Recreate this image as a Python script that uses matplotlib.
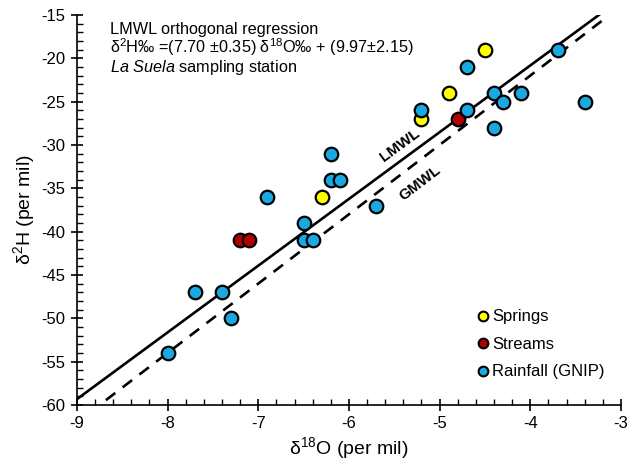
import numpy as np
import matplotlib
matplotlib.use('Agg')
import matplotlib.pyplot as plt
from matplotlib.lines import Line2D
from matplotlib.ticker import MultipleLocator

plt.rcParams['font.family'] = ['Liberation Sans', 'DejaVu Sans']
plt.rcParams['mathtext.fontset'] = 'custom'
plt.rcParams['mathtext.rm'] = 'Liberation Sans'
plt.rcParams['mathtext.it'] = 'Liberation Sans:italic'
plt.rcParams['axes.unicode_minus'] = False

# data (delta 18O, delta 2H)
springs_x = [-6.3, -5.2, -4.9, -4.5]
springs_y = [-36, -27, -24, -19]
streams_x = [-7.2, -7.1, -4.8]
streams_y = [-41, -41, -27]
rain_x = [-8.0, -7.3, -7.7, -7.4, -6.9, -6.5, -6.5, -6.4, -6.2, -6.2, -6.1,
          -5.7, -5.2, -4.7, -4.7, -4.4, -4.4, -4.3, -4.1, -3.7, -3.4]
rain_y = [-54, -50, -47, -47, -36, -39, -41, -41, -31, -34, -34,
          -37, -26, -21, -26, -24, -28, -25, -24, -19, -25]

# meteoric water lines
lmwl_slope, lmwl_int = 7.70, 9.97
gmwl_slope, gmwl_int = 8.0, 10.0

c_spring = '#FFFF00'
c_stream = '#B00000'
c_rain = '#1AA8E0'

fig = plt.figure(figsize=(6.35, 4.65), dpi=100)
ax = fig.add_axes([0.121, 0.129, 0.857, 0.839])

xl = np.array([-9, (-15 - lmwl_int) / lmwl_slope])
ax.plot(xl, lmwl_slope * xl + lmwl_int, color='black', lw=1.9, zorder=2)
xg = np.array([-8.68, -3.16])
ax.plot(xg, gmwl_slope * xg + gmwl_int, color='black', lw=1.9,
        dashes=(4.5, 3.5), zorder=2)

kw = dict(s=95, edgecolors='black', linewidths=1.6, zorder=3)
ax.scatter(springs_x, springs_y, color=c_spring, **kw)
ax.scatter(streams_x, streams_y, color=c_stream, **kw)
ax.scatter(rain_x, rain_y, color=c_rain, **kw)

ax.text(-5.44, -30.0, 'LMWL', rotation=36.4, ha='center', va='center',
        fontsize=11, fontweight='bold', rotation_mode='anchor')
ax.text(-5.22, -34.4, 'GMWL', rotation=37.5, ha='center', va='center',
        fontsize=11, fontweight='bold', rotation_mode='anchor')

note = ('LMWL orthogonal regression\n'
        'δ$^{2}$H‰ =(7.70 ±0.35) δ$^{18}$O‰ + (9.97±2.15)\n'
        r'$\it{La\ Suela}$ sampling station')
ax.text(-8.63, -19.0, note, fontsize=11.7, va='center', linespacing=1.0)

handles = [
    Line2D([], [], ls='none', marker='o', ms=7, mfc=c_spring, mec='black', mew=1.5, label='Springs'),
    Line2D([], [], ls='none', marker='o', ms=7, mfc=c_stream, mec='black', mew=1.5, label='Streams'),
    Line2D([], [], ls='none', marker='o', ms=7, mfc=c_rain, mec='black', mew=1.5, label='Rainfall (GNIP)'),
]
ax.legend(handles=handles, loc='upper left', bbox_to_anchor=(0.725, 0.262),
          frameon=False, handlelength=0.6, handletextpad=0.25,
          labelspacing=0.75, fontsize=12, borderaxespad=0)

ax.set_xlim(-9, -3)
ax.set_ylim(-60, -15)
ax.xaxis.set_major_locator(MultipleLocator(1))
ax.xaxis.set_minor_locator(MultipleLocator(0.2))
ax.yaxis.set_major_locator(MultipleLocator(5))
ax.yaxis.set_minor_locator(MultipleLocator(1))
ax.tick_params(which='major', direction='inout', length=9, width=1.2, labelsize=12)
ax.tick_params(which='minor', direction='in', length=4, width=1.0)
for s in ['top', 'right']:
    ax.spines[s].set_visible(False)
for s in ['left', 'bottom']:
    ax.spines[s].set_linewidth(1.2)

ax.set_xlabel('δ$^{18}$O (per mil)', fontsize=14, labelpad=3)
ax.set_ylabel('δ$^{2}$H (per mil)', fontsize=14, labelpad=3)

fig.savefig('out.png', dpi=100)
